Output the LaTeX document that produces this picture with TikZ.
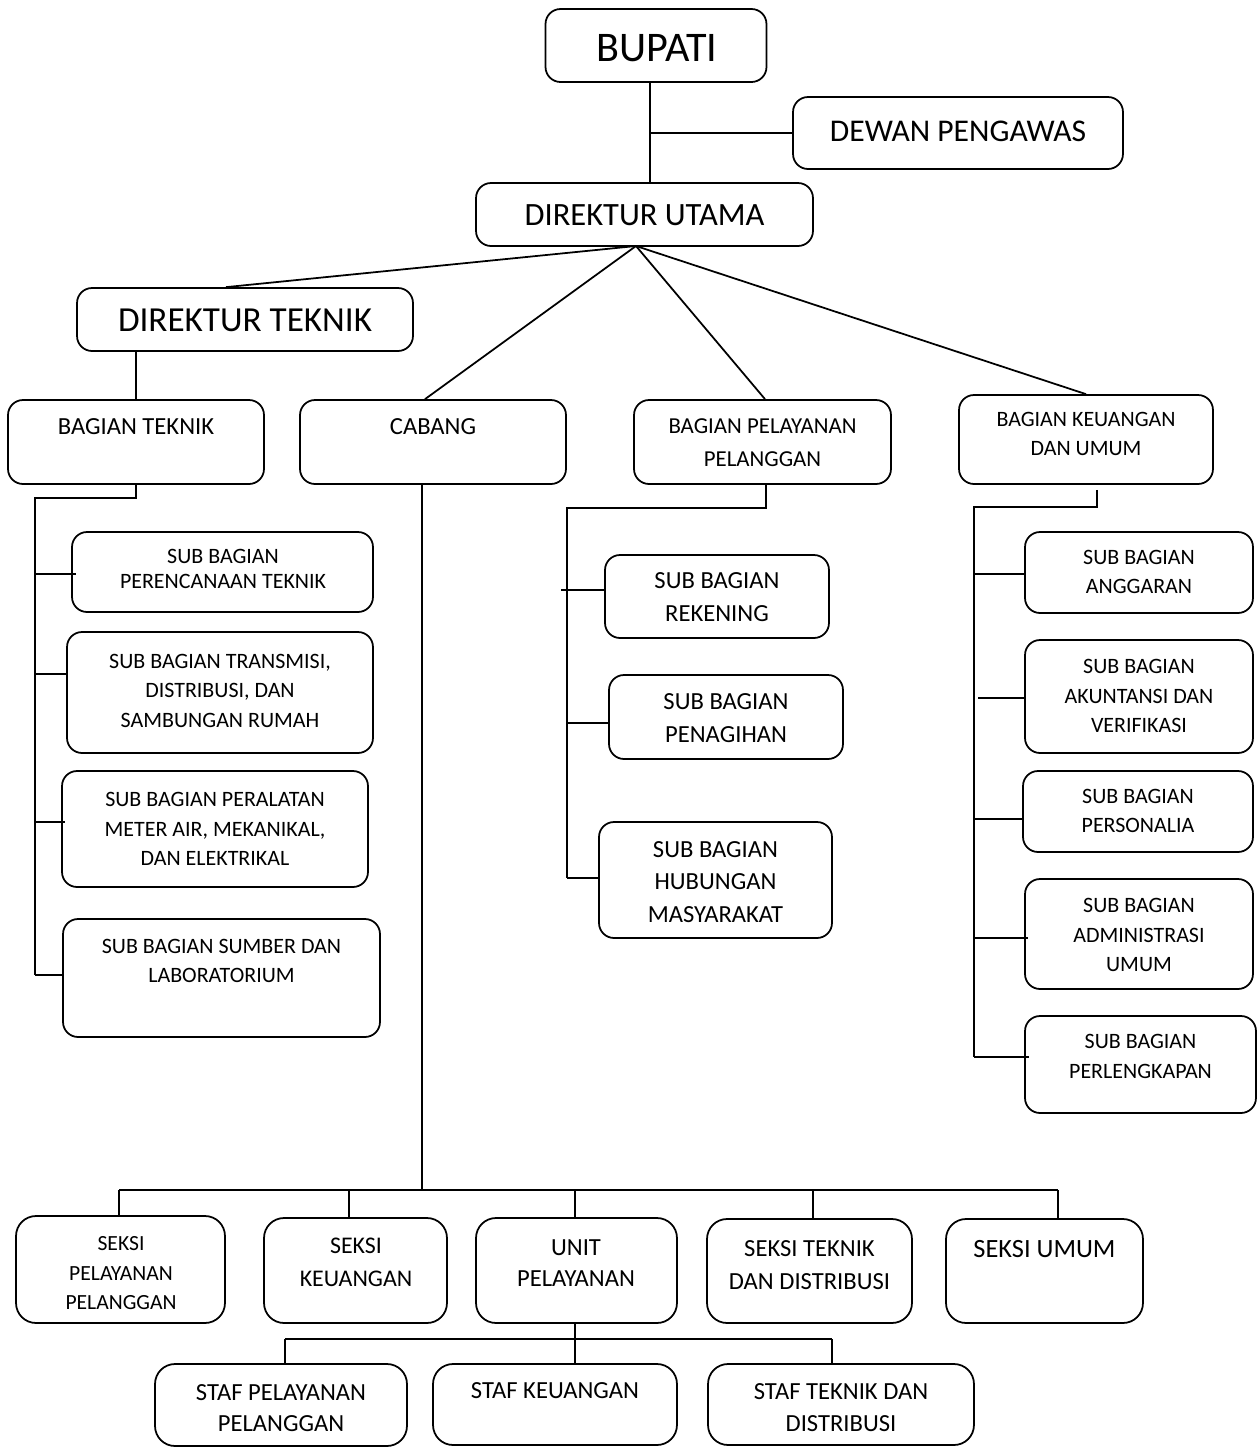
\documentclass[tikz,border=0pt]{standalone}
\usepackage{fontspec}
\setmainfont{Carlito}
\newcommand\fs[2]{\fontsize{#1}{#2}\selectfont}
\tikzset{
  unit/.style={draw, rounded corners=0.3cm, line width=1pt, inner sep=0pt},
  unitlow/.style={unit, rounded corners=0.4cm},
  lbl/.style={align=center, inner sep=0pt},
  link/.style={line width=1pt},
}
\begin{document}
\begin{tikzpicture}[x=0.02cm, y=-0.02cm]
\useasboundingbox (0,0) rectangle (1259,1448);

% pimpinan
\node[unit, minimum width=4.42cm, minimum height=1.46cm] (bupati) at (656,45.5) {};
\node[lbl, font=\fs{24}{29}] (bupati-t) at (657,48.5) {BUPATI};
\node[unit, minimum width=6.6cm, minimum height=1.44cm] (dewan) at (958,133) {};
\node[lbl, font=\fs{18}{22}] (dewan-t) at (958,131) {DEWAN PENGAWAS};
\node[unit, minimum width=6.74cm, minimum height=1.26cm] (dirut) at (644.5,214.5) {};
\node[lbl, font=\fs{18.5}{22}] (dirut-t) at (644.5,215) {DIREKTUR UTAMA};
\node[unit, minimum width=6.72cm, minimum height=1.26cm] (dirtek) at (245,319.5) {};
\node[lbl, font=\fs{20}{24}] (dirtek-t) at (245,320) {DIREKTUR TEKNIK};

% bagian
\node[unit, minimum width=5.12cm, minimum height=1.68cm] (bagtek) at (136,442) {};
\node[lbl, font=\fs{14}{17}] (bagtek-t) at (136,427) {BAGIAN TEKNIK};
\node[unit, minimum width=5.32cm, minimum height=1.68cm] (cabang) at (433,442) {};
\node[lbl, font=\fs{14}{17}] (cabang-t) at (433,427) {CABANG};
\node[unit, minimum width=5.14cm, minimum height=1.68cm] (bagpel) at (762.5,442) {};
\node[lbl, font=\fs{13}{18.7}] (bagpel-t) at (762.5,442.5) {BAGIAN PELAYANAN\\PELANGGAN};
\node[unit, minimum width=5.08cm, minimum height=1.78cm] (bagkeu) at (1086,439.5) {};
\node[lbl, font=\fs{12.5}{16.5}] (bagkeu-t) at (1086,434) {BAGIAN KEUANGAN\\DAN UMUM};

% sub bagian teknik
\node[unit, minimum width=6.02cm, minimum height=1.6cm] (perenc) at (222.5,572) {};
\node[lbl, font=\fs{12.5}{14}] (perenc-t) at (223,569) {SUB BAGIAN\\PERENCANAAN TEKNIK};
\node[unit, minimum width=6.12cm, minimum height=2.42cm] (transmisi) at (220,692.5) {};
\node[lbl, font=\fs{12.5}{16.8}] (transmisi-t) at (220,690.5) {SUB BAGIAN TRANSMISI,\\DISTRIBUSI, DAN\\SAMBUNGAN RUMAH};
\node[unit, minimum width=6.12cm, minimum height=2.32cm] (peralatan) at (215,829) {};
\node[lbl, font=\fs{12.5}{16.8}] (peralatan-t) at (215,829) {SUB BAGIAN PERALATAN\\METER AIR, MEKANIKAL,\\DAN ELEKTRIKAL};
\node[unit, minimum width=6.34cm, minimum height=2.36cm] (sumber) at (221.5,978) {};
\node[lbl, font=\fs{12.5}{17}] (sumber-t) at (221.5,961) {SUB BAGIAN SUMBER DAN\\LABORATORIUM};

% sub bagian pelayanan
\node[unit, minimum width=4.48cm, minimum height=1.66cm] (rekening) at (717,596.5) {};
\node[lbl, font=\fs{14}{18.7}] (rekening-t) at (717,597) {SUB BAGIAN\\REKENING};
\node[unit, minimum width=4.68cm, minimum height=1.68cm] (penagihan) at (726,717) {};
\node[lbl, font=\fs{14}{18.7}] (penagihan-t) at (726,718.5) {SUB BAGIAN\\PENAGIHAN};
\node[unit, minimum width=4.66cm, minimum height=2.32cm] (hubungan) at (715.5,880) {};
\node[lbl, font=\fs{14}{18.7}] (hubungan-t) at (715.5,882) {SUB BAGIAN\\HUBUNGAN\\MASYARAKAT};

% sub bagian keuangan
\node[unit, minimum width=4.56cm, minimum height=1.62cm] (anggaran) at (1139,572.5) {};
\node[lbl, font=\fs{12.5}{17}] (anggaran-t) at (1139,572) {SUB BAGIAN\\ANGGARAN};
\node[unit, minimum width=4.56cm, minimum height=2.26cm] (akuntansi) at (1139,696.5) {};
\node[lbl, font=\fs{12.5}{17}] (akuntansi-t) at (1139,696) {SUB BAGIAN\\AKUNTANSI DAN\\VERIFIKASI};
\node[unit, minimum width=4.6cm, minimum height=1.62cm] (personalia) at (1138,811.5) {};
\node[lbl, font=\fs{12.5}{17}] (personalia-t) at (1138,811) {SUB BAGIAN\\PERSONALIA};
\node[unit, minimum width=4.56cm, minimum height=2.2cm] (administrasi) at (1139,934) {};
\node[lbl, font=\fs{12.5}{17}] (administrasi-t) at (1139,935) {SUB BAGIAN\\ADMINISTRASI\\UMUM};
\node[unit, minimum width=4.62cm, minimum height=1.94cm] (perlengkapan) at (1140.5,1064.5) {};
\node[lbl, font=\fs{12.5}{17}] (perlengkapan-t) at (1140.5,1056.5) {SUB BAGIAN\\PERLENGKAPAN};

% seksi cabang
\node[unitlow, minimum width=4.18cm, minimum height=2.14cm] (seksipel) at (120.5,1269.5) {};
\node[lbl, font=\fs{12.3}{16.8}] (seksipel-t) at (121,1273.5) {SEKSI\\PELAYANAN\\PELANGGAN};
\node[unitlow, minimum width=3.66cm, minimum height=2.1cm] (seksikeu) at (355.5,1270.5) {};
\node[lbl, font=\fs{13.6}{18.7}] (seksikeu-t) at (356,1262.5) {SEKSI\\KEUANGAN};
\node[unitlow, minimum width=4.02cm, minimum height=2.1cm] (unitpel) at (576.5,1270.5) {};
\node[lbl, font=\fs{14}{18}] (unitpel-t) at (576,1263) {UNIT\\PELAYANAN};
\node[unitlow, minimum width=4.1cm, minimum height=2.08cm] (seksitek) at (809.5,1271) {};
\node[lbl, font=\fs{14}{19}] (seksitek-t) at (809.5,1265) {SEKSI TEKNIK\\DAN DISTRIBUSI};
\node[unitlow, minimum width=3.94cm, minimum height=2.08cm] (seksium) at (1044.5,1271) {};
\node[lbl, font=\fs{15}{18}] (seksium-t) at (1044.5,1249) {SEKSI UMUM};

% staf unit
\node[unitlow, minimum width=5.04cm, minimum height=1.64cm] (stafpel) at (281,1405) {};
\node[lbl, font=\fs{14}{18}] (stafpel-t) at (281,1408) {STAF PELAYANAN\\PELANGGAN};
\node[unitlow, minimum width=4.88cm, minimum height=1.62cm] (stafkeu) at (555,1404.5) {};
\node[lbl, font=\fs{14}{18}] (stafkeu-t) at (555,1391) {STAF KEUANGAN};
\node[unitlow, minimum width=5.32cm, minimum height=1.62cm] (staftek) at (841,1404.5) {};
\node[lbl, font=\fs{14}{18}] (staftek-t) at (841,1407.5) {STAF TEKNIK DAN\\DISTRIBUSI};

% garis atas
\coordinate (jb) at (650,133);
\draw[link] (bupati.south -| jb) -- (dirut.north -| jb);
\draw[link] (jb) -- (jb -| dewan.west);
\coordinate (fan) at (636,246);
\foreach \n/\s in {dirtek/-0.38, cabang/-0.16, bagpel/0.05, bagkeu/0}
  \draw[link] (fan) -- ([xshift=\s cm]\n.north);
\draw[link] (dirtek.south -| bagtek.north) -- (bagtek.north);

% garis bagian teknik
\coordinate (tkbus) at (35,498);
\foreach \y/\n/\e in {574/perenc/0.1, 674/transmisi/0, 822/peralatan/0.08, 975/sumber/0}
  \draw[link] (35,\y) coordinate (tb\n) -- ([xshift=\e cm]tb\n -| \n.west);
\draw[link] (bagtek.south) |- (tkbus) -- (tbsumber);

% garis bagian pelayanan
\coordinate (plbus) at (567,508);
\foreach \y/\n/\a in {590/rekening/561, 723/penagihan/567, 878/hubungan/567}
  \draw[link] (\a,\y) coordinate (pb\n) -- (pb\n -| \n.west);
\draw[link] ([xshift=0.07cm]bagpel.south) |- (plbus) -- (567,878);

% garis bagian keuangan
\coordinate (kbus) at (974,507);
\foreach \y/\n/\a/\e in {574/anggaran/974/0, 698/akuntansi/978/0, 819/personalia/974/0, 938/administrasi/974/0.08, 1057/perlengkapan/974/0.1}
  \draw[link] (\a,\y) coordinate (kb\n) -- ([xshift=\e cm]kb\n -| \n.west);
\draw[link] ([xshift=0.22cm, yshift=-0.1cm]bagkeu.south) |- (kbus) -- (kbperlengkapan);

% garis cabang
\coordinate (cb) at (422,1190);
\draw[link] (cabang.south -| cb) -- (cb);
\foreach \x/\n in {119/seksipel, 349/seksikeu, 575/unitpel, 813/seksitek, 1058/seksium}
  \draw[link] (\x,1190) coordinate (sb\n) -- (sb\n |- \n.north);
\draw[link] (sbseksipel) -- (sbseksium);

% garis unit pelayanan
\foreach \x/\n in {285/stafpel, 575/stafkeu, 832/staftek}
  \draw[link] (\x,1339) coordinate (ub\n) -- (ub\n |- \n.north);
\draw[link] (ubstafpel) -- (ubstaftek);
\draw[link] (unitpel.south -| ubstafkeu) -- (ubstafkeu);
\end{tikzpicture}
\end{document}
